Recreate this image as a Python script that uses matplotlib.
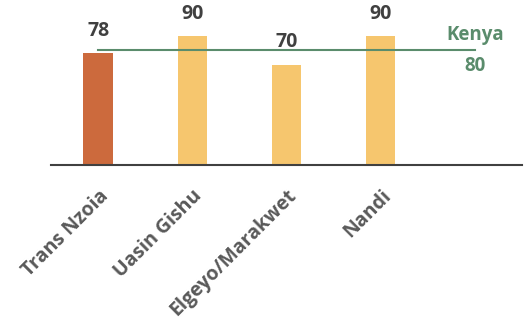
import matplotlib.pyplot as plt
import numpy as np

plt.rcParams['font.family'] = ['Open Sans', 'DejaVu Sans']

counties = ['Trans Nzoia', 'Uasin Gishu', 'Elgeyo/Marakwet', 'Nandi']
values = [78, 90, 70, 90]
colors = ['#CC6A3D', '#F6C66E', '#F6C66E', '#F6C66E']
kenya = 80

fig = plt.figure(figsize=(5.30, 3.22), dpi=100)
ax = fig.add_axes([51/530, 1-165/322, 471/530, 0.445])

x = np.arange(len(counties))
ax.bar(x, values, width=0.31, color=colors)
for xi, v in zip(x, values):
    ax.annotate(str(v), (xi, v), xytext=(0, 9), textcoords='offset points',
                ha='center', va='bottom', fontsize=14, fontweight='bold',
                color='#404040')

ax.plot([0, 4], [kenya, kenya], color='#5A8C6C', lw=1.5)
ax.annotate('Kenya', (4, kenya), xytext=(0, 4), textcoords='offset points',
            ha='center', va='bottom', fontsize=13.5, fontweight='bold',
            color='#5A8C6C')
ax.annotate(str(kenya), (4, kenya), xytext=(0, -4), textcoords='offset points',
            ha='center', va='top', fontsize=13.5, fontweight='bold',
            color='#5A8C6C')

ax.set_xlim(-0.5, 4.5)
ax.set_ylim(0, 100)
ax.set_xticks(x)
ax.set_xticklabels(counties, rotation=45, ha='right', rotation_mode='anchor',
                   fontsize=14, fontweight='bold', color='#595959')
ax.tick_params(axis='x', length=0, pad=15)
ax.set_yticks([])
for s in ['top', 'right', 'left']:
    ax.spines[s].set_visible(False)
ax.spines['bottom'].set_color('#404040')
ax.spines['bottom'].set_linewidth(1.5)

fig.savefig('out.png', dpi=100)
